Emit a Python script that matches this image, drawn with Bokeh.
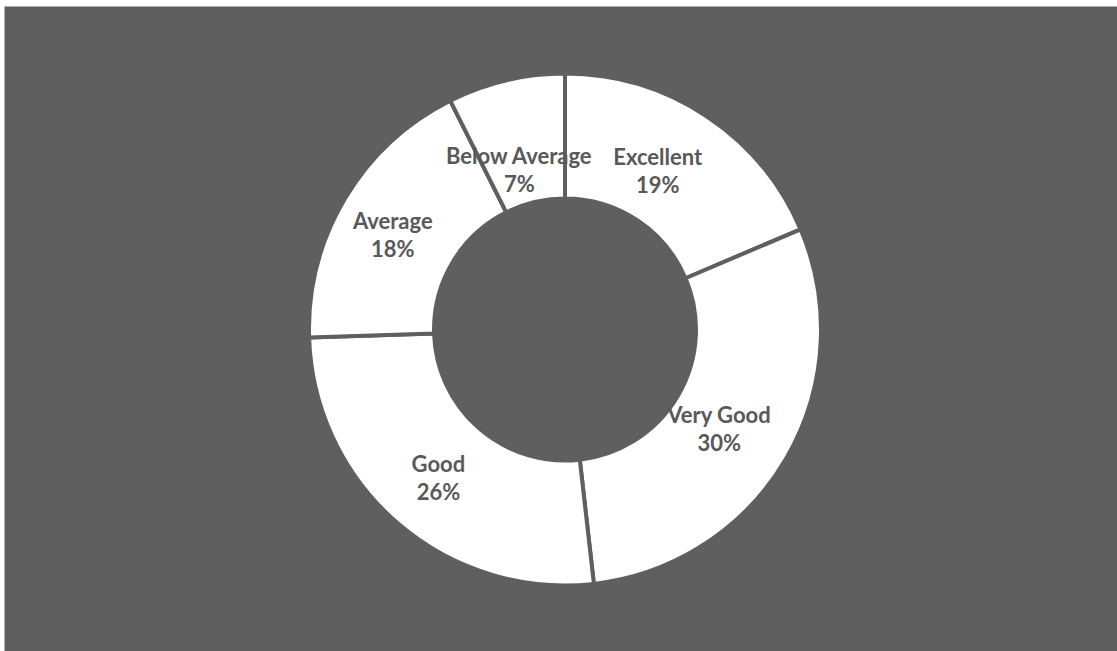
import math
from bokeh.plotting import figure
from bokeh.models import ColumnDataSource, Range1d
from bokeh.core.properties import value
from bokeh.embed import file_html
from bokeh.resources import INLINE

categories = ["Excellent", "Very Good", "Good", "Average", "Below Average"]
shares = [18.6, 29.6, 26.3, 18.1, 7.4]
labels = ["19%", "30%", "26%", "18%", "7%"]

BG = "#5f5f5f"
TXT = "#595959"
W, H = 1117, 651
BL, BT = 4, 6
FW, FH = W - BL, H - BT
cx, cy = 564.5 - BL, FH - (329 - BT)
r_out, r_in = 256, 131

total = sum(shares)
starts, ends, mids = [], [], []
acc = 0.0
for s in shares:
    a0 = math.pi / 2 - 2 * math.pi * acc / total
    acc += s
    a1 = math.pi / 2 - 2 * math.pi * acc / total
    starts.append(a0)
    ends.append(a1)
    mids.append((a0 + a1) / 2)

r_lab = (r_out + r_in) / 2
lx = [cx + r_lab * math.cos(m) for m in mids]
ly = [cy + r_lab * math.sin(m) for m in mids]
# small nudges (style only)
dx = [-14, -13, 0, -6, -1]
dy = [-2, -2, -2, -4, -28]
lx = [a + b for a, b in zip(lx, dx)]
ly = [a + b for a, b in zip(ly, dy)]

src = ColumnDataSource(dict(start=starts, end=ends, cat=categories, pct=labels,
                            lx=lx, ly=ly))

p = figure(width=W, height=H, output_backend="svg", toolbar_location=None,
           x_range=Range1d(0, FW), y_range=Range1d(0, FH),
           min_border_left=BL, min_border_top=BT, min_border_right=0, min_border_bottom=0)
p.axis.visible = False
p.grid.visible = False
p.outline_line_color = None
p.background_fill_color = BG
p.border_fill_color = "white"

p.annular_wedge(x=cx, y=cy, inner_radius=r_in, outer_radius=r_out,
                start_angle="start", end_angle="end", direction="clock",
                fill_color="white", line_color=BG, line_width=4, source=src)

font = value("Lato")
p.text(x="lx", y="ly", text="cat", source=src, text_font=font, text_font_style="bold",
       text_font_size="22px", text_color=TXT, text_align="center",
       text_baseline="middle", y_offset=-14)
p.text(x="lx", y="ly", text="pct", source=src, text_font=font, text_font_style="bold",
       text_font_size="22px", text_color=TXT, text_align="center",
       text_baseline="middle", y_offset=14)

open("out.html", "w").write(file_html(p, INLINE))
